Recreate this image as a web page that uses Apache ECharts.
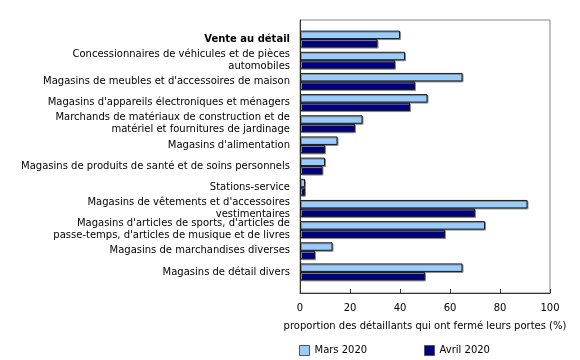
<!DOCTYPE html>
<html><head><meta charset="utf-8">
<script src="https://cdn.jsdelivr.net/npm/echarts@6/dist/echarts.min.js"></script>
<style>html,body{margin:0;padding:0;background:#fff}#c{width:580px;height:360px}</style>
</head><body><div id="c"></div>
<script>
const categories = [
  "Vente au détail",
  "Concessionnaires de véhicules et de pièces\nautomobiles",
  "Magasins de meubles et d'accessoires de maison",
  "Magasins d'appareils électroniques et ménagers",
  "Marchands de matériaux de construction et de\nmatériel et fournitures de jardinage",
  "Magasins d'alimentation",
  "Magasins de produits de santé et de soins personnels",
  "Stations-service",
  "Magasins de vêtements et d'accessoires\nvestimentaires",
  "Magasins d'articles de sports, d'articles de\npasse-temps, d'articles de musique et de livres",
  "Magasins de marchandises diverses",
  "Magasins de détail divers"
];
const mars2020 = [40, 42, 65, 51, 25, 15, 10, 2, 91, 74, 13, 65];
const avril2020 = [31, 38, 46, 44, 22, 10, 9, 2, 70, 58, 6, 50];
const seriesNames = ["Mars 2020", "Avril 2020"];
const xAxisTitle = "proportion des détaillants qui ont fermé leurs portes (%)";

const FONT = "DejaVu Sans";
const FS = 10;
const chart = echarts.init(document.getElementById('c'), null, {renderer: 'canvas'});
const barStyle = (color) => ({
  color: color, borderColor: '#1a1a1a', borderWidth: 1,
  shadowColor: '#8a8a8a', shadowOffsetX: 1, shadowOffsetY: 1, shadowBlur: 0
});
const legendItemStyle = {borderColor: '#555', borderWidth: 1, shadowBlur: 0, shadowOffsetX: 0, shadowOffsetY: 0, shadowColor: 'transparent'};
chart.setOption({
  animation: false,
  textStyle: {fontFamily: FONT},
  grid: [
    {left: 300, width: 250, top: 28.5, height: 254, containLabel: false},
    {left: 300, width: 250, top: 20, height: 273, show: true, borderColor: '#888', borderWidth: 1, backgroundColor: 'transparent'}
  ],
  xAxis: [
    {gridIndex: 0, type: 'value', min: 0, max: 100, interval: 20, show: false},
    {gridIndex: 1, type: 'value', min: 0, max: 100, interval: 20,
     axisLine: {show: true, lineStyle: {color: '#333', width: 1}},
     axisTick: {show: true, inside: true, length: 4, lineStyle: {color: '#333'}},
     splitLine: {show: false},
     axisLabel: {color: '#000', fontSize: FS, fontFamily: FONT, margin: 10},
     name: xAxisTitle, nameLocation: 'middle', nameGap: 28,
     nameTextStyle: {color: '#000', fontSize: FS, fontFamily: FONT}}
  ],
  yAxis: [
    {gridIndex: 0, type: 'category', data: categories, inverse: true,
     axisLine: {show: false}, axisTick: {show: false},
     axisLabel: {margin: 10, color: '#000', fontSize: FS, fontFamily: FONT, lineHeight: 12,
       formatter: (v) => v === categories[0] ? '{b|' + v + '}' : v,
       rich: {b: {fontWeight: 'bold', fontSize: FS, fontFamily: FONT, color: '#000'}}}},
    {gridIndex: 1, type: 'value', min: 0, max: 1, show: true,
     axisLine: {show: true, lineStyle: {color: '#333', width: 1}},
     axisTick: {show: false}, axisLabel: {show: false}, splitLine: {show: false}}
  ],
  legend: [
    {data: [seriesNames[0]], left: 299, top: 345, padding: 0, itemWidth: 10, itemHeight: 10, itemGap: 5,
     icon: 'rect', textStyle: {color: '#000', fontSize: FS, fontFamily: FONT}, itemStyle: legendItemStyle},
    {data: [seriesNames[1]], left: 424, top: 345, padding: 0, itemWidth: 10, itemHeight: 10, itemGap: 5,
     icon: 'rect', textStyle: {color: '#000', fontSize: FS, fontFamily: FONT}, itemStyle: legendItemStyle}
  ],
  series: [
    {name: seriesNames[0], type: 'bar', xAxisIndex: 0, yAxisIndex: 0, data: mars2020,
     barGap: '0%', barCategoryGap: '20%', itemStyle: barStyle('#99ccff')},
    {name: seriesNames[1], type: 'bar', xAxisIndex: 0, yAxisIndex: 0, data: avril2020,
     barGap: '0%', barCategoryGap: '20%', itemStyle: barStyle('#000080')}
  ]
});
</script></body></html>
